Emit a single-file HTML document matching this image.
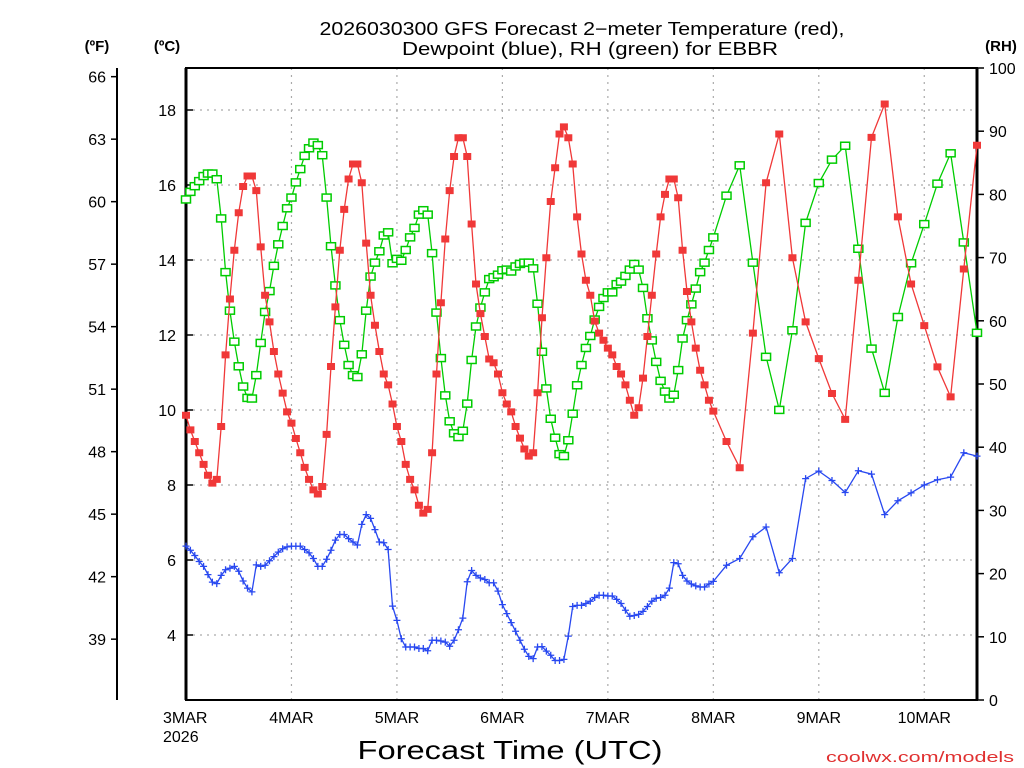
<!DOCTYPE html>
<html><head><meta charset="utf-8"><style>
html,body{margin:0;padding:0;background:#fff;}
svg{display:block;font-family:"Liberation Sans",sans-serif;}
</style></head><body>
<svg id="chart" width="1024" height="768" viewBox="0 0 1024 768" xmlns="http://www.w3.org/2000/svg">
<rect width="1024" height="768" fill="#fff"/>
<text x="582" y="35" text-anchor="middle" font-size="18" textLength="525" lengthAdjust="spacingAndGlyphs">2026030300 GFS Forecast 2−meter Temperature (red),</text>
<text x="590" y="55" text-anchor="middle" font-size="18" textLength="376" lengthAdjust="spacingAndGlyphs">Dewpoint (blue), RH (green) for EBBR</text>
<text x="97" y="51" text-anchor="middle" font-size="15" font-weight="bold">(ºF)</text>
<text x="167" y="51" text-anchor="middle" font-size="15" font-weight="bold">(ºC)</text>
<text x="1001" y="51" text-anchor="middle" font-size="15" font-weight="bold">(RH)</text>
<text x="510" y="759" text-anchor="middle" font-size="26" textLength="305" lengthAdjust="spacingAndGlyphs">Forecast Time (UTC)</text>
<text x="1014" y="762" text-anchor="end" font-size="15" fill="#e03030" textLength="188" lengthAdjust="spacingAndGlyphs">coolwx.com/models</text>
<g id="grid"></g>
<g id="axes"></g>
<g id="series"></g>
</svg>
<script>
const hours = [...Array(121).keys()].concat([123,126,129,132,135,138,141,144,147,150,153,156,159,162,165,168,171,174,177,180]);
const dayLabels = ["3MAR","4MAR","5MAR","6MAR","7MAR","8MAR","9MAR","10MAR"];
const celsiusTicks = [4,6,8,10,12,14,16,18];
const fahrenheitTicks = [39,42,45,48,51,54,57,60,63,66];
const rhTicks = [0,10,20,30,40,50,60,70,80,90,100];
const temperature = [
9.86,9.47,9.16,8.86,8.55,8.26,8.05,8.15,9.56,11.47,12.96,14.26,15.26,15.96,16.24,16.24,
15.85,14.35,13.06,12.35,11.56,10.96,10.45,9.95,9.65,9.24,8.86,8.47,8.15,7.87,7.76,7.96,
9.35,11.16,12.75,14.26,15.35,16.16,16.56,16.56,16.06,14.45,13.06,12.26,11.56,10.96,10.67,10.16,
9.56,9.16,8.55,8.15,7.87,7.46,7.25,7.35,8.86,10.96,12.86,14.56,15.85,16.76,17.26,17.26,
16.76,14.96,13.36,12.57,11.96,11.36,11.26,10.96,10.46,10.16,9.95,9.56,9.25,8.96,8.77,8.86,
10.46,12.46,14.06,15.56,16.46,17.36,17.55,17.26,16.56,15.15,14.16,13.46,13.06,12.37,12.05,11.86,
11.65,11.47,11.16,10.96,10.67,10.26,9.86,10.06,10.85,11.96,13.06,14.16,15.15,15.75,16.16,16.16,
15.66,14.26,13.16,12.35,11.65,11.06,10.67,10.26,9.97,
9.16,8.46,12.05,16.06,17.36,14.06,12.35,11.37,10.44,9.75,13.46,17.27,18.16,15.15,13.36,12.25,11.15,10.35,13.76,17.06];
const dewpoint = [
6.37,6.26,6.12,5.96,5.83,5.61,5.41,5.37,5.59,5.74,5.78,5.83,5.70,5.44,5.25,5.15,
5.87,5.83,5.86,5.98,6.09,6.21,6.30,6.35,6.37,6.37,6.37,6.28,6.19,6.04,5.83,5.83,
6.02,6.26,6.53,6.68,6.68,6.57,6.48,6.40,6.95,7.21,7.11,6.81,6.48,6.46,6.28,4.77,
4.39,3.90,3.68,3.68,3.68,3.64,3.64,3.58,3.86,3.86,3.84,3.81,3.70,3.86,4.14,4.45,
5.42,5.72,5.59,5.52,5.48,5.39,5.39,5.17,4.81,4.57,4.33,4.10,3.86,3.62,3.43,3.37,
3.68,3.69,3.57,3.46,3.32,3.32,3.35,3.97,4.76,4.79,4.79,4.84,4.90,5.00,5.06,5.06,
5.04,5.04,4.95,4.84,4.66,4.50,4.52,4.55,4.63,4.76,4.90,4.98,5.00,5.06,5.25,5.93,
5.90,5.59,5.44,5.36,5.31,5.28,5.28,5.36,5.43,
5.86,6.04,6.62,6.88,5.66,6.04,8.17,8.37,8.12,7.80,8.38,8.29,7.21,7.58,7.79,8.00,8.14,8.21,8.86,8.77];
const humidity = [
79.2,80.4,81.3,82.1,82.9,83.3,83.3,82.4,76.2,67.7,61.6,56.7,52.8,49.6,47.8,47.7,
51.4,56.5,61.4,64.7,68.7,72.1,75.0,77.8,79.5,81.9,84.0,86.1,87.3,88.2,87.8,86.2,
79.5,71.8,65.6,60.1,56.2,53.0,51.4,51.1,54.7,61.6,67.0,69.2,71.0,73.5,74.0,69.1,
69.8,69.5,71.2,73.2,74.7,76.8,77.5,76.8,70.7,61.3,54.1,48.2,44.1,42.2,41.6,42.6,
46.9,53.8,59.1,62.1,64.5,66.6,66.9,67.3,68.0,68.1,67.8,68.6,69.0,69.2,69.2,68.3,
62.7,55.1,49.3,44.5,41.5,38.9,38.6,41.1,45.3,49.8,53.0,55.7,57.6,60.2,62.2,63.6,
64.5,64.5,65.8,66.2,67.1,68.1,69.0,68.1,65.2,60.4,56.9,53.5,50.5,48.8,47.7,48.3,
52.2,57.2,60.1,62.6,65.1,67.7,69.2,71.2,73.2,
79.8,84.6,69.2,54.3,45.9,58.5,75.5,81.8,85.5,87.7,71.4,55.6,48.6,60.6,69.1,75.3,81.7,86.5,72.4,58.1];

const NS='http://www.w3.org/2000/svg';
const L=186,R=977,T=68,B=700;
function xS(h){return L+(h/180)*(R-L);}
function yC(c){return 785-37.5*c;}
function yF(f){return yC((f-32)*5/9);}
function yRH(r){return B-(r/100)*(B-T);}
function mk(tag,attrs,parent){const e=document.createElementNS(NS,tag);for(const k in attrs)e.setAttribute(k,attrs[k]);parent.appendChild(e);return e;}
const grid=document.getElementById('grid'),axes=document.getElementById('axes'),series=document.getElementById('series');

celsiusTicks.forEach(c=>{
  const y=yC(c);
  const g=mk('line',{x1:L,x2:R,y1:y,y2:y,stroke:'#aaa','stroke-width':1.2,'stroke-dasharray':'2 5'},grid);
  
  
  const t=mk('line',{x1:L,x2:L+7,y1:y,y2:y,stroke:'#000','stroke-width':1.5},axes);
  
  
  const lb=mk('text',{x:176,y:y+6,'text-anchor':'end','font-size':16},axes);
  lb.textContent=c;
  
  
});
dayLabels.forEach((d,i)=>{
  const x=xS(i*24);
  if(i>0){
    const g=mk('line',{x1:x,x2:x,y1:T,y2:B,stroke:'#aaa','stroke-width':1.2,'stroke-dasharray':'2 5'},grid);
    
    
  }
  const lb=mk('text',{x:x+(i==0?0:0),y:723,'text-anchor':i==0?'start':'middle','font-size':16},axes);
  if(i==0) lb.setAttribute('x',163);
  lb.textContent=d;
  
  
});
const yr=mk('text',{x:163,y:742,'font-size':16},axes);
yr.textContent='2026';



const fAxis=mk('line',{x1:117,x2:117,y1:T,y2:B,stroke:'#000','stroke-width':2},axes);


fahrenheitTicks.forEach(f=>{
  const y=yF(f);
  const t=mk('line',{x1:111,x2:117,y1:y,y2:y,stroke:'#000','stroke-width':1.5},axes);
  
  
  const lb=mk('text',{x:106,y:y+6,'text-anchor':'end','font-size':16},axes);
  lb.textContent=f;
  
  
});
rhTicks.forEach(r=>{
  const y=yRH(r);
  const t=mk('line',{x1:R,x2:R+7,y1:y,y2:y,stroke:'#000','stroke-width':1.5},axes);
  
  
  const lb=mk('text',{x:989,y:y+6,'font-size':16},axes);
  lb.textContent=r;
  
  
});
const frame=mk('rect',{x:L,y:T,width:R-L,height:B-T,fill:'none',stroke:'#000','stroke-width':2},axes);


const lb2=mk('line',{x1:L,x2:L,y1:T,y2:B,stroke:'#000','stroke-width':3},axes);


const rb2=mk('line',{x1:R,x2:R,y1:T,y2:B,stroke:'#000','stroke-width':3},axes);



function drawSeries(vals,yfn,color,kind,name){
  const pts=vals.map((v,i)=>[xS(hours[i]),yfn(v)]);
  const pl=mk('polyline',{points:pts.map(p=>p[0].toFixed(1)+','+p[1].toFixed(1)).join(' '),fill:'none',stroke:color,'stroke-width':1.3},series);
  
  
  pts.forEach(p=>{
    let m;
    if(kind==='fill'){
      m=mk('rect',{x:p[0]-4,y:p[1]-3.5,width:8,height:7,fill:color},series);
    }else if(kind==='hollow'){
      m=mk('rect',{x:p[0]-4.5,y:p[1]-3.5,width:9,height:7,fill:'#fff',stroke:color,'stroke-width':1.5},series);
    }else{
      m=mk('path',{d:`M${p[0]-3.5},${p[1]}h7M${p[0]},${p[1]-3.5}v7`,stroke:color,'stroke-width':1.3,fill:'none'},series);
    }
    
    
  });
}
drawSeries(humidity,yRH,'#00cc00','hollow','rh');
drawSeries(temperature,yC,'#f03838','fill','temperature');
drawSeries(dewpoint,yC,'#2848f0','plus','dewpoint');
</script>
</body></html>
